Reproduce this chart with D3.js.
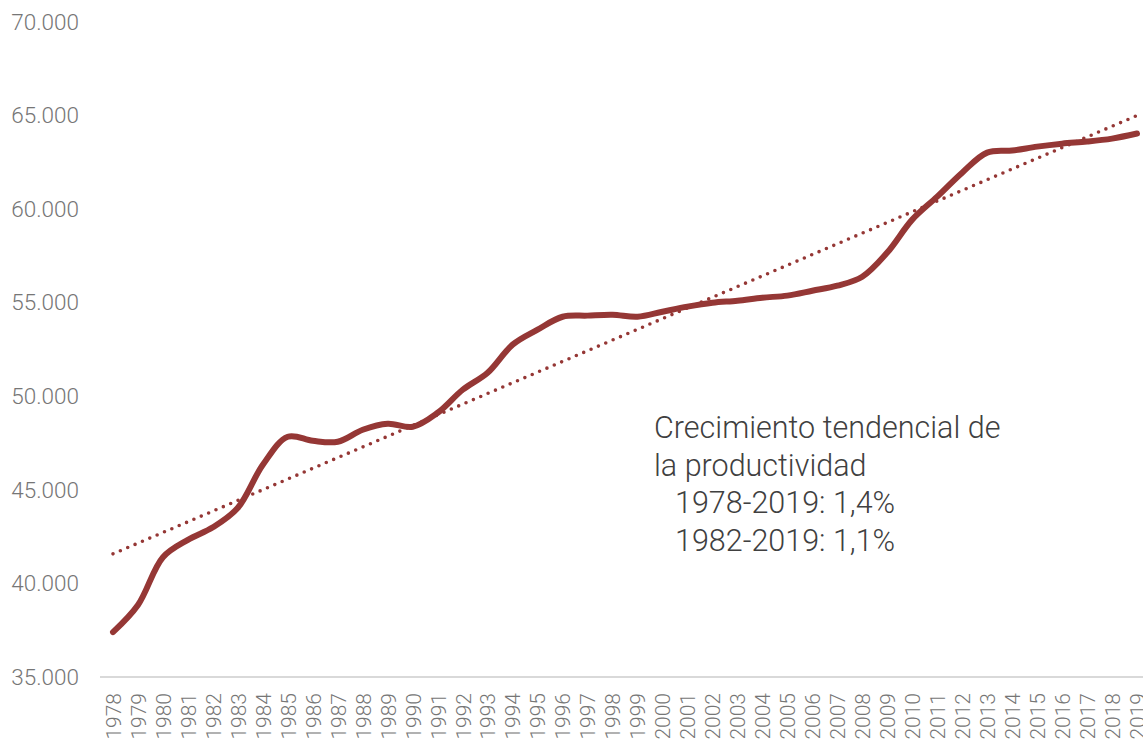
<!DOCTYPE html>
<html>
<head>
<meta charset="utf-8">
<script src="https://cdn.jsdelivr.net/npm/d3@7"></script>
<style>
  body { margin: 0; background: #fff; }
  svg { display: block; font-family: Roboto, "Open Sans", sans-serif; }
</style>
</head>
<body>
<div id="chart"></div>
<script>
// Productividad
const years = d3.range(1978, 2020).map(String);
const productividad = [
  37400, 38850, 41400, 42330, 43000, 44040, 46340, 47840, 47620, 47570,
  48210, 48530, 48370, 49120, 50350, 51260, 52760, 53560, 54250, 54310,
  54360, 54250, 54520, 54790, 55000, 55110, 55270, 55380, 55640, 55910,
  56390, 57680, 59440, 60670, 61950, 63020, 63130, 63340, 63500, 63610,
  63770, 64040
];
// Tendencia lineal: extremos 1978 y 2019
const tendencia = [41580, 65000];
const yTicks = [35000, 40000, 45000, 50000, 55000, 60000, 65000, 70000];
const noteLines = ["Crecimiento tendencial de", "la productividad", "1978-2019: 1,4%", "1982-2019: 1,1%"];

const width = 1143, height = 742;
const margin = { top: 22, right: 5, bottom: 65, left: 100 };
const red = "#953735";

const svg = d3.select("#chart").append("svg")
  .attr("width", width)
  .attr("height", height);

const x = d3.scalePoint()
  .domain(years)
  .range([113, 1137]);

const y = d3.scaleLinear()
  .domain([35000, 70000])
  .range([height - margin.bottom, margin.top]);

const fmt = v => d3.format(",")(v).replace(/,/g, ".");

// Eje Y (solo etiquetas)
const yAxis = svg.append("g")
  .attr("transform", `translate(79,0)`)
  .call(d3.axisLeft(y).tickValues(yTicks).tickFormat(fmt).tickSize(0).tickPadding(0));
yAxis.select(".domain").remove();
yAxis.selectAll("text")
  .attr("fill", "#767676")
  .attr("font-size", "22.5px")
  .attr("font-weight", 300)
  .attr("font-family", "Roboto, sans-serif");

// Línea base
svg.append("line")
  .attr("x1", margin.left)
  .attr("x2", width)
  .attr("y1", y(35000))
  .attr("y2", y(35000))
  .attr("stroke", "#d9d9d9")
  .attr("stroke-width", 2);

// Eje X (años rotados)
const xAxis = svg.append("g")
  .attr("transform", `translate(0,${y(35000)})`)
  .call(d3.axisBottom(x).tickSize(0).tickPadding(0));
xAxis.select(".domain").remove();
xAxis.selectAll("text")
  .attr("transform", "rotate(-90)")
  .attr("x", -16)
  .attr("y", 0)
  .attr("dy", "0.35em")
  .attr("text-anchor", "end")
  .attr("fill", "#767676")
  .attr("font-size", "21px")
  .attr("font-weight", 300)
  .attr("font-family", "Roboto, sans-serif");

// Línea de tendencia punteada
svg.append("line")
  .attr("x1", x(years[0]))
  .attr("y1", y(tendencia[0]))
  .attr("x2", x(years[years.length - 1]))
  .attr("y2", y(tendencia[1]))
  .attr("stroke", red)
  .attr("stroke-width", 3.6)
  .attr("stroke-linecap", "round")
  .attr("stroke-dasharray", "0 8");

// Serie principal suavizada
const line = d3.line()
  .x((d, i) => x(years[i]))
  .y(d => y(d))
  .curve(d3.curveCatmullRom.alpha(0.5));

svg.append("path")
  .datum(productividad)
  .attr("fill", "none")
  .attr("stroke", red)
  .attr("stroke-width", 6)
  .attr("stroke-linecap", "round")
  .attr("stroke-linejoin", "round")
  .attr("d", line);

// Anotación
const note = svg.append("text")
  .attr("font-size", "30.5px")
  .attr("font-weight", 300)
  .attr("fill", "#404040");
noteLines.forEach((t, i) => {
  note.append("tspan")
    .attr("x", i < 2 ? 654 : 675)
    .attr("y", 438 + i * 37.7)
    .text(t);
});
</script>
</body>
</html>
